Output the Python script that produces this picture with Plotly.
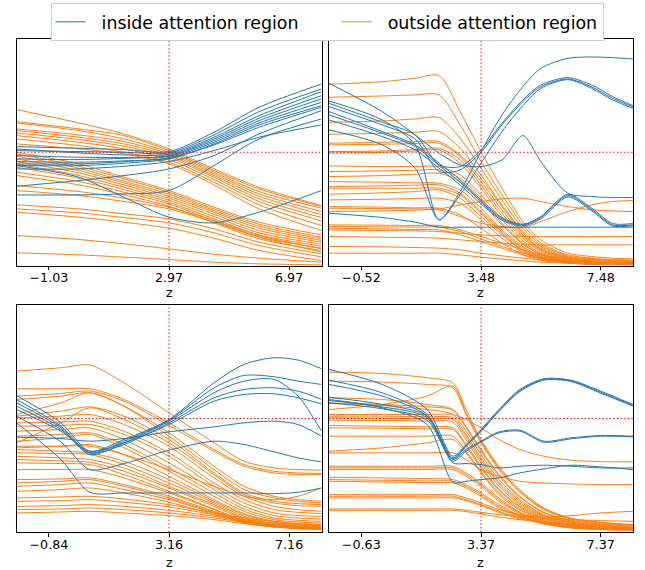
import plotly.graph_objects as go

BLUE = "#1f77b4"
ORANGE = "#ff7f0e"
FONT = "DejaVu Sans"

# ---------------- panel 1 (top-left) ----------------
p1_center = 2.97
p1_x = [-2.11, -0.03, 1.47, 2.97, 4.47, 5.97, 8.05]
p1_inside = [
    [357, 352, 348, 342, 400, 475, 545],
    [345, 342, 340, 338, 392, 462, 530],
    [350, 338, 332, 334, 385, 450, 522],
    [320, 318, 322, 330, 380, 442, 510],
    [330, 325, 324, 328, 375, 435, 500],
    [305, 305, 312, 324, 370, 428, 490],
    [300, 300, 307, 320, 365, 422, 480],
    [312, 310, 314, 322, 362, 415, 475],
    [290, 290, 298, 312, 345, 385, 422],
    [238, 255, 270, 290, 330, 395, 465],
    [212, 212, 215, 225, 300, 380, 440],
    [300, 265, 205, 145, 128, 160, 225],
]
p1_outside = [
    [468, 428, 395, 350, 290, 235, 180],
    [432, 410, 390, 345, 285, 230, 177],
    [428, 405, 380, 340, 280, 222, 172],
    [410, 392, 372, 335, 275, 215, 162],
    [405, 385, 365, 330, 270, 208, 153],
    [398, 378, 358, 325, 265, 200, 144],
    [390, 370, 350, 318, 258, 192, 134],
    [380, 360, 340, 310, 250, 182, 120],
    [365, 350, 335, 305, 242, 170, 105],
    [340, 305, 265, 225, 175, 130, 92],
    [335, 298, 260, 220, 170, 124, 85],
    [328, 292, 253, 214, 165, 118, 80],
    [320, 285, 248, 208, 160, 112, 75],
    [312, 278, 242, 202, 154, 105, 70],
    [305, 270, 235, 196, 147, 98, 64],
    [295, 262, 228, 190, 140, 92, 58],
    [280, 252, 220, 185, 134, 86, 52],
    [270, 242, 212, 178, 128, 80, 45],
    [240, 222, 202, 175, 135, 90, 50],
    [225, 210, 192, 170, 130, 85, 40],
    [182, 170, 155, 140, 110, 70, 35],
    [170, 158, 144, 128, 98, 60, 26],
    [160, 145, 130, 112, 82, 45, 15],
    [90, 78, 65, 50, 34, 22, 10],
    [38, 32, 25, 18, 10, 5, 2],
]

# ---------------- panel 2 (top-right) ----------------
p2_center = 3.48
p2_x = [-1.60, 0.18, 1.28, 2.08, 2.78, 3.48, 4.18, 4.88, 5.48, 6.38, 7.18, 7.88, 8.56]
p2_inside = [
    [494, 437, 362, 137, 222, 342, 452, 537, 592, 622, 626, 624, 620],
    [487, 430, 392, 302, 297, 347, 427, 497, 542, 564, 542, 507, 480],
    [477, 422, 380, 282, 287, 340, 422, 492, 537, 560, 536, 502, 476],
    [407, 362, 292, 137, 212, 307, 402, 480, 532, 558, 532, 497, 472],
    [547, 462, 392, 337, 302, 297, 317, 390, 312, 217, 207, 204, 204],
    [462, 402, 362, 307, 257, 197, 144, 124, 147, 214, 172, 126, 126],
    [452, 397, 357, 300, 250, 192, 140, 122, 144, 210, 168, 122, 122],
    [437, 387, 347, 292, 242, 185, 136, 119, 140, 206, 164, 119, 120],
    [157, 144, 130, 115, 115, 115, 115, 115, 115, 115, 115, 115, 115],
]
p2_outside = [
    [544, 552, 562, 570, 462, 342, 232, 132, 77, 37, 27, 22, 20],
    [505, 509, 512, 512, 422, 312, 212, 122, 67, 32, 22, 18, 16],
    [430, 434, 440, 444, 382, 292, 197, 112, 62, 29, 20, 16, 14],
    [394, 397, 400, 402, 352, 272, 182, 102, 57, 26, 18, 14, 12],
    [367, 370, 372, 372, 332, 262, 177, 97, 52, 24, 16, 12, 10],
    [362, 364, 366, 367, 327, 252, 167, 92, 49, 22, 14, 11, 9],
    [342, 344, 348, 352, 317, 242, 157, 87, 46, 20, 12, 9, 8],
    [337, 340, 344, 347, 307, 232, 147, 82, 42, 18, 11, 8, 7],
    [299, 297, 297, 297, 272, 212, 137, 74, 37, 16, 9, 6, 5],
    [282, 284, 286, 287, 262, 202, 127, 67, 34, 14, 8, 5, 4],
    [267, 270, 274, 277, 252, 192, 122, 64, 32, 13, 7, 5, 4],
    [252, 250, 248, 247, 227, 172, 107, 57, 28, 12, 6, 4, 3],
    [237, 239, 241, 242, 217, 162, 102, 52, 26, 11, 6, 4, 3],
    [232, 232, 232, 232, 212, 157, 97, 47, 24, 10, 5, 3, 2],
    [214, 218, 222, 227, 202, 147, 92, 44, 22, 9, 4, 3, 2],
    [197, 199, 201, 202, 187, 137, 82, 40, 20, 8, 4, 2, 2],
    [177, 175, 173, 172, 152, 112, 67, 32, 16, 7, 3, 2, 2],
    [172, 171, 170, 170, 182, 192, 200, 202, 192, 177, 167, 164, 162],
    [162, 164, 166, 167, 147, 127, 117, 114, 132, 162, 182, 192, 195],
    [122, 121, 120, 120, 107, 87, 67, 47, 32, 20, 12, 8, 6],
    [117, 116, 115, 115, 102, 80, 57, 37, 24, 14, 8, 5, 4],
    [107, 105, 104, 102, 97, 92, 89, 87, 87, 87, 87, 87, 87],
    [112, 110, 108, 107, 92, 72, 52, 32, 20, 10, 6, 4, 3],
    [87, 85, 84, 82, 77, 72, 67, 64, 62, 62, 62, 62, 62],
    [57, 56, 54, 52, 47, 37, 29, 22, 16, 12, 10, 9, 8],
    [37, 37, 37, 37, 32, 25, 19, 14, 10, 7, 5, 4, 4],
]

# ---------------- panel 3 (bottom-left) ----------------
p3_center = 3.16
p3_x = [-1.92, -0.44, 0.52, 1.66, 3.16, 4.66, 5.66, 6.66, 7.46, 8.24]
p3_inside = [
    [327, 217, 119, 117, 117, 117, 117, 115, 119, 132],
    [409, 327, 242, 277, 337, 447, 502, 522, 515, 489],
    [397, 317, 237, 272, 335, 432, 469, 465, 452, 442],
    [387, 312, 232, 267, 332, 417, 452, 457, 407, 302],
    [377, 307, 237, 262, 327, 402, 427, 432, 422, 397],
    [367, 302, 242, 267, 322, 392, 412, 414, 402, 384],
    [347, 270, 187, 205, 245, 272, 262, 240, 222, 210],
    [284, 280, 272, 280, 300, 315, 327, 332, 322, 287],
]
p3_outside = [
    [482, 492, 500, 447, 357, 267, 212, 192, 187, 185],
    [429, 429, 429, 397, 327, 247, 202, 182, 177, 175],
    [407, 415, 422, 392, 319, 242, 197, 177, 172, 172],
    [397, 407, 417, 377, 297, 197, 137, 107, 97, 92],
    [352, 387, 417, 377, 287, 187, 127, 102, 92, 87],
    [347, 362, 375, 347, 277, 177, 117, 92, 85, 82],
    [267, 327, 372, 337, 267, 172, 112, 87, 79, 77],
    [342, 347, 352, 322, 257, 162, 107, 77, 67, 62],
    [327, 329, 332, 302, 237, 147, 97, 67, 59, 55],
    [317, 319, 322, 292, 227, 137, 87, 57, 49, 47],
    [302, 307, 312, 277, 207, 127, 77, 49, 42, 39],
    [287, 292, 297, 262, 192, 117, 69, 42, 35, 32],
    [272, 282, 292, 252, 182, 107, 62, 37, 30, 27],
    [252, 257, 262, 232, 167, 97, 55, 32, 25, 22],
    [247, 242, 237, 212, 157, 92, 52, 29, 22, 19],
    [237, 235, 232, 202, 147, 87, 47, 25, 19, 17],
    [227, 222, 217, 192, 137, 82, 42, 22, 17, 15],
    [217, 213, 209, 182, 132, 77, 39, 20, 15, 13],
    [207, 205, 202, 172, 122, 69, 35, 18, 13, 11],
    [187, 187, 187, 162, 117, 67, 32, 17, 12, 10],
    [157, 159, 162, 142, 107, 62, 35, 22, 17, 15],
    [147, 152, 157, 137, 102, 59, 32, 19, 14, 12],
    [137, 142, 147, 127, 97, 57, 29, 17, 12, 9],
    [122, 127, 132, 117, 89, 52, 27, 15, 10, 7],
    [102, 105, 107, 99, 82, 57, 42, 32, 25, 19],
    [92, 94, 97, 89, 75, 52, 37, 27, 21, 15],
    [77, 79, 82, 77, 65, 47, 32, 22, 16, 11],
    [67, 69, 72, 67, 57, 42, 29, 19, 13, 9],
    [57, 60, 62, 57, 49, 37, 25, 15, 10, 7],
    [257, 257, 257, 232, 187, 137, 107, 97, 107, 132],
]

# ---------------- panel 4 (bottom-right) ----------------
p4_center = 3.37
p4_x = [-1.71, 0.07, 1.57, 2.43, 2.87, 3.37, 3.97, 4.67, 5.47, 6.37, 7.37, 8.45]
p4_inside = [
    [487, 442, 367, 227, 262, 307, 367, 427, 459, 455, 422, 382],
    [455, 417, 352, 222, 259, 304, 364, 424, 457, 453, 419, 379],
    [442, 407, 347, 219, 257, 301, 361, 421, 455, 451, 416, 377],
    [404, 382, 347, 217, 247, 272, 300, 305, 272, 282, 289, 287],
    [394, 375, 342, 212, 242, 269, 297, 302, 269, 279, 287, 285],
    [387, 369, 335, 207, 205, 202, 192, 197, 200, 197, 192, 192],
    [397, 372, 322, 149, 152, 157, 162, 177, 189, 200, 195, 187],
]
p4_outside = [
    [479, 475, 462, 447, 367, 277, 197, 127, 72, 42, 29, 22],
    [452, 449, 442, 432, 352, 267, 187, 119, 67, 39, 27, 20],
    [367, 382, 407, 437, 357, 272, 192, 122, 69, 40, 28, 21],
    [402, 397, 382, 367, 317, 247, 172, 107, 59, 35, 24, 17],
    [387, 382, 375, 365, 312, 242, 167, 104, 57, 33, 22, 15],
    [352, 352, 352, 352, 337, 312, 277, 247, 227, 215, 211, 210],
    [385, 379, 367, 352, 302, 232, 157, 97, 52, 30, 20, 13],
    [347, 347, 345, 342, 292, 222, 149, 92, 49, 29, 19, 12],
    [342, 341, 339, 337, 285, 215, 144, 87, 47, 27, 17, 11],
    [335, 334, 332, 329, 277, 207, 137, 82, 44, 25, 16, 10],
    [319, 317, 315, 312, 262, 197, 129, 77, 41, 23, 14, 9],
    [312, 311, 309, 307, 257, 192, 125, 74, 39, 22, 13, 8],
    [287, 287, 287, 287, 242, 182, 117, 69, 37, 20, 12, 7],
    [242, 252, 267, 277, 237, 177, 112, 65, 34, 19, 11, 7],
    [237, 237, 237, 237, 217, 187, 167, 152, 147, 144, 142, 142],
    [197, 197, 197, 197, 177, 147, 102, 59, 32, 17, 10, 6],
    [192, 192, 192, 192, 172, 142, 97, 57, 30, 16, 9, 6],
    [187, 187, 187, 187, 167, 137, 92, 54, 29, 15, 9, 6],
    [164, 162, 160, 157, 142, 117, 82, 49, 27, 14, 8, 5],
    [157, 155, 153, 152, 137, 112, 77, 47, 25, 13, 8, 5],
    [152, 150, 148, 147, 132, 107, 72, 44, 24, 12, 7, 5],
    [112, 112, 112, 112, 102, 87, 67, 52, 42, 37, 34, 32],
    [107, 107, 107, 107, 97, 82, 62, 42, 29, 19, 13, 9],
    [102, 102, 102, 102, 94, 79, 59, 39, 27, 17, 11, 7],
    [69, 69, 69, 69, 65, 59, 52, 47, 45, 49, 57, 62],
    [65, 65, 65, 65, 61, 54, 45, 37, 29, 22, 17, 13],
]

threshold = 340
y_range = [0, 680]
legend_names = ["inside attention region", "outside attention region"]

panels = [
    (p1_center, p1_x, p1_inside, p1_outside),
    (p2_center, p2_x, p2_inside, p2_outside),
    (p3_center, p3_x, p3_inside, p3_outside),
    (p4_center, p4_x, p4_inside, p4_outside),
]

W, H = 645, 570
dom_x = [[16.5 / W, 321.5 / W], [329 / W, 633 / W], [16.5 / W, 321.5 / W], [329 / W, 633 / W]]
dom_y = [[1 - 265.5 / H, 1 - 39 / H], [1 - 265.5 / H, 1 - 39 / H],
         [1 - 532 / H, 1 - 305 / H], [1 - 532 / H, 1 - 305 / H]]


def fmt(v):
    s = f"{v:.2f}"
    return s.replace("-", "\u2212")


NB = "\u00a0\u00a0"          # gap between legend line sample and its text
PAD = "\u00a0" * 6           # spacing between the two legend entries

fig = go.Figure()
layout = dict(
    width=W, height=H,
    margin=dict(l=0, r=0, t=0, b=0),
    plot_bgcolor="white", paper_bgcolor="white",
    font=dict(family=FONT, color="black"),
    showlegend=True,
    legend=dict(
        orientation="h", x=327 / W, xanchor="center", y=1 - 3 / H, yanchor="top",
        bordercolor="#cccccc", borderwidth=1, bgcolor="white",
        font=dict(size=17.4, family=FONT, color="black"),
        tracegroupgap=0,
    ),
    shapes=[], annotations=[],
)

legend_done = {"in": False, "out": False}
for i, (c, xs, ins, outs) in enumerate(panels):
    k = "" if i == 0 else str(i + 1)
    xa, ya = "x" + k, "y" + k
    for ys in outs:
        fig.add_trace(go.Scatter(
            x=xs, y=ys, mode="lines", xaxis=xa, yaxis=ya,
            line=dict(color=ORANGE, width=1, shape="spline", smoothing=0.8),
            name=NB + legend_names[1], legendgroup="out", legendrank=2,
            showlegend=not legend_done["out"], hoverinfo="skip"))
        legend_done["out"] = True
    for ys in ins:
        fig.add_trace(go.Scatter(
            x=xs, y=ys, mode="lines", xaxis=xa, yaxis=ya,
            line=dict(color=BLUE, width=1, shape="spline", smoothing=0.8),
            name=NB + legend_names[0] + PAD, legendgroup="in", legendrank=1,
            showlegend=not legend_done["in"], hoverinfo="skip"))
        legend_done["in"] = True

    ticks = [c - 4, c, c + 4]
    layout["xaxis" + k] = dict(
        domain=dom_x[i], anchor=ya, range=[xs[0], xs[-1]],
        tickmode="array", tickvals=ticks, ticktext=[fmt(t) for t in ticks],
        ticks="outside", ticklen=3.5, tickwidth=1, tickcolor="black",
        ticklabelstandoff=-3,
        tickfont=dict(size=12.7, family=FONT, color="black"),
        showline=True, mirror=True, linecolor="black", linewidth=1,
        showgrid=False, zeroline=False, automargin=False,
    )
    layout["yaxis" + k] = dict(
        domain=dom_y[i], anchor=xa, range=y_range,
        showticklabels=False, ticks="",
        showline=True, mirror=True, linecolor="black", linewidth=1,
        showgrid=False, zeroline=False, automargin=False,
    )
    layout["shapes"].append(dict(
        type="line", xref=xa, yref=ya + " domain", x0=c, x1=c, y0=0, y1=1,
        line=dict(color="red", width=1, dash="1.4px,2.2px"), layer="above"))
    layout["shapes"].append(dict(
        type="line", xref=xa + " domain", yref=ya, x0=0, x1=1, y0=threshold, y1=threshold,
        line=dict(color="red", width=1, dash="1.4px,2.2px"), layer="above"))
    ypix = 292 if i < 2 else 562
    layout["annotations"].append(dict(
        text="z", xref="paper", yref="paper",
        x=(dom_x[i][0] + dom_x[i][1]) / 2, y=1 - ypix / H,
        xanchor="center", yanchor="middle", showarrow=False,
        font=dict(size=12.7, family=FONT, color="black")))

fig.update_layout(**layout)
fig.write_html("out.html", config={"displayModeBar": False},
               post_script="document.body.style.margin='0px';")
